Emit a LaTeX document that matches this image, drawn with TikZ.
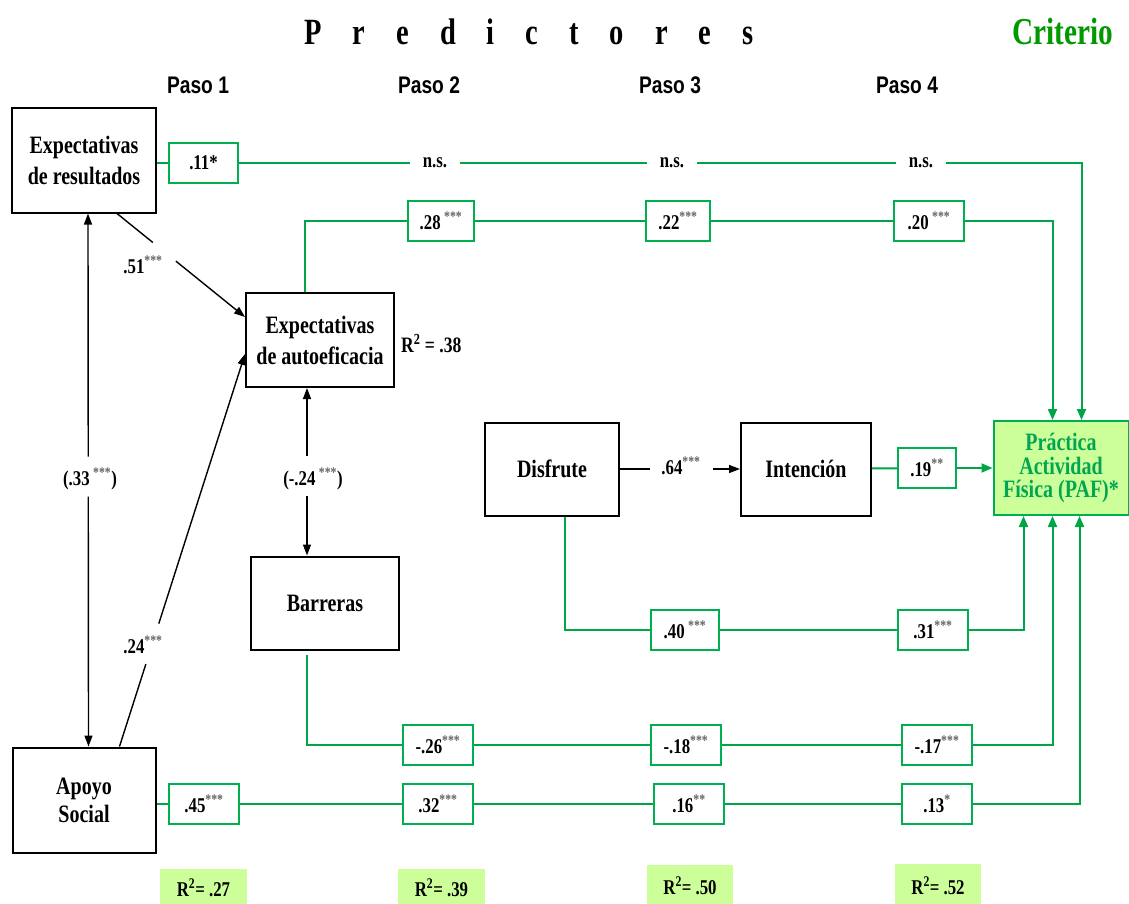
\documentclass[tikz,border=0pt]{standalone}
\usepackage{fontspec}
\setmainfont{Liberation Serif}[FakeStretch=0.8]
\newfontfamily\pasofont{Liberation Sans}[FakeStretch=0.8]
\newfontfamily\titlefont{Liberation Serif}[FakeStretch=0.77]
\usetikzlibrary{arrows.meta,calc}
\definecolor{linegreen}{RGB}{0,165,70}
\definecolor{boxgreen}{RGB}{0,176,80}
\definecolor{paftext}{RGB}{0,166,81}
\definecolor{critgreen}{RGB}{0,153,0}
\definecolor{palegreen}{RGB}{204,255,153}
\definecolor{stargrey}{RGB}{100,100,100}
\newcommand\signif[1]{\textsuperscript{\color{stargrey}#1}}
\begin{document}
\begin{tikzpicture}[x=1pt,y=-1pt,
  every node/.style={inner sep=0pt},
  varbox/.style={draw, line width=2pt, align=center, font=\fontsize{25}{31}\selectfont\bfseries},
  coef/.style={draw=boxgreen, line width=2pt, fill=white, minimum width=68pt, minimum height=40pt, font=\fontsize{21}{24}\selectfont\bfseries},
  plainlabel/.style={font=\fontsize{21}{24}\selectfont\bfseries},
  nslabel/.style={inner xsep=13pt, font=\fontsize{21}{24}\selectfont\bfseries},
  glink/.style={draw=linegreen, line width=2pt},
  gtip/.style={-{Triangle[length=11pt,width=9pt]}},
  blink/.style={draw=black, line width=1.4pt},
  btip/.style={-{Triangle[length=11pt,width=8pt]}},
  bbtip/.style={{Triangle[length=11pt,width=8pt]}-},
  steplabel/.style={anchor=base, font=\pasofont\fontsize{24}{26}\selectfont\bfseries},
  rbox/.style={fill=palegreen, minimum width=86pt, font=\fontsize{21}{24}\selectfont\bfseries},
]
\useasboundingbox (0,0) rectangle (1129,903);

% headings
\node[anchor=base, font=\titlefont\fontsize{37}{40}\selectfont\bfseries] (title) at (529,44)
  {P\hspace{31pt}r\hspace{31pt}e\hspace{31pt}d\hspace{31pt}i\hspace{31pt}c\hspace{31pt}t\hspace{31pt}o\hspace{31pt}r\hspace{31pt}e\hspace{31pt}s};
\node[anchor=base, text=critgreen, font=\titlefont\fontsize{38}{40}\selectfont\bfseries] (crit) at (1063,44) {Criterio};
\node[steplabel] (p1) at (198,93) {Paso 1};
\node[steplabel] (p2) at (429,93) {Paso 2};
\node[steplabel] (p3) at (670,93) {Paso 3};
\node[steplabel] (p4) at (907,93) {Paso 4};

% variables
\node[varbox, minimum width=144pt, minimum height=105pt] (ER) at (84,160) {Expectativas\\de resultados};
\node[varbox, minimum width=148pt, minimum height=94pt] (EA) at (320,340) {Expectativas\\de autoeficacia};
\node[varbox, minimum width=148pt, minimum height=93pt] (BA) at (325,603) {Barreras};
\node[varbox, minimum width=143pt, minimum height=105pt, font=\fontsize{25}{28}\selectfont\bfseries] (AS) at (84,800) {Apoyo\\Social};
\node[varbox, minimum width=134pt, minimum height=93pt] (DI) at (552,469) {\raisebox{-4pt}{Disfrute}};
\node[varbox, minimum width=130pt, minimum height=93pt] (IN) at (806,469) {Intención};
\node[varbox, draw=boxgreen, fill=palegreen, text=paftext, minimum width=135pt, minimum height=94pt,
      font=\fontsize{25}{23.5}\selectfont\bfseries] (PAF) at (1061,468) {Práctica\\Actividad\\Física (PAF)*};
\node[anchor=base west, font=\fontsize{22}{24}\selectfont\bfseries] (r38) at (401,352) {R\textsuperscript{2} = .38};

% coefficient boxes
\node[coef, minimum width=69pt] (c11) at (203.5,163) {.11*};
\node[nslabel] (ns1) at (435,163) {n.s.};
\node[nslabel] (ns2) at (672,163) {n.s.};
\node[nslabel] (ns3) at (921,163) {n.s.};

\node[coef, minimum width=66pt] (c28) at (441,221) {.28\,\signif{***}};
\node[coef, minimum width=64pt] (c22) at (678,221) {.22\signif{***}};
\node[coef, minimum width=70pt] (c20) at (929,221) {.20\,\signif{***}};

\node[coef, minimum width=58pt] (c19) at (927,468) {.19\signif{**}};

\node[coef, minimum width=68pt] (c40) at (685,630) {.40\,\signif{***}};
\node[coef, minimum width=70pt] (c31) at (933,630) {.31\signif{***}};

\node[coef, minimum width=70pt] (c26) at (438,745) {-.26\signif{***}};
\node[coef, minimum width=70pt] (c18) at (686,745) {-.18\signif{***}};
\node[coef, minimum width=70pt] (c17) at (937,745) {-.17\signif{***}};

\node[coef, minimum width=70pt] (c45) at (204,804) {.45\signif{***}};
\node[coef, minimum width=70pt] (c32) at (438,804) {.32\signif{***}};
\node[coef, minimum width=70pt] (c16) at (689,804) {.16\signif{**}};
\node[coef, minimum width=70pt] (c13) at (937,804) {.13\signif{*}};

% green paths to the criterion
\draw[glink] (ER.east |- c11) -- (c11);
\draw[glink] (c11) -- (ns1);
\draw[glink] (ns1) -- (ns2);
\draw[glink] (ns2) -- (ns3);
\draw[glink, gtip] (ns3) -| ([xshift=89pt]PAF.north west);

\draw[glink] ([xshift=60pt]EA.north west) |- (c28);
\draw[glink] (c28) -- (c22);
\draw[glink] (c22) -- (c20);
\draw[glink, gtip] (c20) -| ([xshift=60pt]PAF.north west);

\draw[glink] (IN) -- (c19);
\draw[glink, gtip] (c19) -- (PAF);

\draw[glink] ([xshift=81pt]DI.south west) |- (c40);
\draw[glink] (c40) -- (c31);
\draw[glink, gtip] (c31) -| ([xshift=31pt]PAF.south west);

\draw[glink] ([xshift=57pt,yshift=-4pt]BA.south west) |- (c26);
\draw[glink] (c26) -- (c18);
\draw[glink] (c18) -- (c17);
\draw[glink, gtip] (c17) -| ([xshift=60pt]PAF.south west);

\draw[glink] (AS.east |- c45) -- (c45);
\draw[glink] (c45) -- (c32);
\draw[glink] (c32) -- (c16);
\draw[glink] (c16) -- (c13);
\draw[glink, gtip] (c13) -| ([xshift=87pt]PAF.south west);

% black paths among predictors
\path ([xshift=106pt]ER.south west) -- coordinate[pos=0.28] (g51a) coordinate[pos=0.46] (g51b) ([yshift=-25pt]EA.north west);
\draw[blink] ([xshift=106pt]ER.south west) -- (g51a);
\draw[blink, btip] (g51b) -- ([yshift=-25pt]EA.north west);
\node[plainlabel] (l51) at (143,265) {.51\signif{***}};

\path ([xshift=108pt]AS.north west) -- coordinate[pos=0.21] (g24a) coordinate[pos=0.313] (g24b) ([yshift=-62pt]EA.north west);
\draw[blink] ([xshift=108pt]AS.north west) -- (g24a);
\draw[blink, btip] (g24b) -- ([yshift=-62pt]EA.north west);
\node[plainlabel] (l24) at (143,645) {.24\signif{***}};

\path ([xshift=77pt]ER.south west) -- coordinate[pos=0.456] (g33a) coordinate[pos=0.531] (g33b) ([xshift=77pt]AS.north west);
\draw[blink, bbtip] ([xshift=77pt]ER.south west) -- (g33a);
\draw[blink, btip] (g33b) -- ([xshift=77pt]AS.north west);
\node[plainlabel] (l33) at (90,479) {(.33\,\signif{***})};

\path ([xshift=62pt]EA.south west) -- coordinate[pos=0.408] (gbaa) coordinate[pos=0.645] (gbab) ([xshift=57pt]BA.north west);
\draw[blink, bbtip] ([xshift=62pt]EA.south west) -- (gbaa);
\draw[blink, btip] (gbab) -- ([xshift=57pt]BA.north west);
\node[plainlabel] (lba) at (313,479) {(-.24\,\signif{***})};

\path (DI.east) -- coordinate[pos=0.254] (g64a) coordinate[pos=0.779] (g64b) (IN.west);
\draw[blink] (DI.east) -- (g64a);
\draw[blink, btip] (g64b) -- (IN.west);
\node[plainlabel] (l64) at (681,466) {.64\signif{***}};

% explained variance at each step
\node[rbox, minimum height=38pt, minimum width=87pt] (rs1) at (203.5,888) {\raisebox{-3pt}{R\textsuperscript{2}= .27}};
\node[rbox, minimum height=38pt, minimum width=87pt] (rs2) at (441.5,888) {\raisebox{-3pt}{R\textsuperscript{2}= .39}};
\node[rbox, minimum height=42pt] (rs3) at (690,886) {R\textsuperscript{2}= .50};
\node[rbox, minimum height=44pt] (rs4) at (938,886) {R\textsuperscript{2}= .52};
\end{tikzpicture}
\end{document}
